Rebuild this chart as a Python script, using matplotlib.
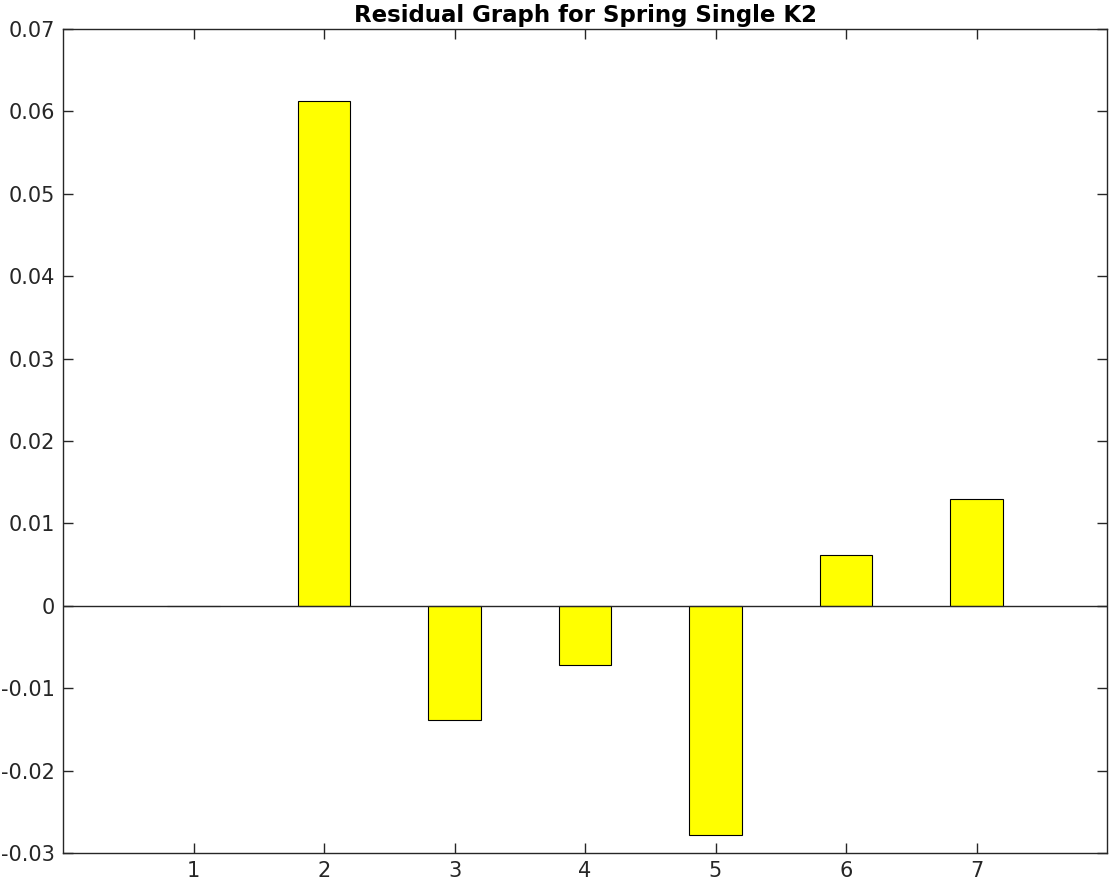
import matplotlib.pyplot as plt
import numpy as np

# --- DATA ---
positions = [1, 2, 3, 4, 5, 6, 7]
residuals = [0.00002, 0.0613, -0.0138, -0.0072, -0.0278, 0.0062, 0.0130]
y_ticks = [-0.03, -0.02, -0.01, 0, 0.01, 0.02, 0.03, 0.04, 0.05, 0.06, 0.07]
y_tick_labels = ['-0.03', '-0.02', '-0.01', '0', '0.01', '0.02', '0.03',
                 '0.04', '0.05', '0.06', '0.07']

axis_col = '#262626'

fig = plt.figure(figsize=(11.1, 8.85), dpi=100)
fig.patch.set_facecolor('white')
ax = fig.add_axes([63 / 1110, 32 / 885, (1107 - 63) / 1110, (853 - 29) / 885])

ax.bar(positions, residuals, width=0.4, color='yellow', edgecolor='black',
       linewidth=0.8, zorder=3)
ax.axhline(0, color=axis_col, linewidth=1.0, zorder=4)

ax.set_xlim(0, 8)
ax.set_ylim(-0.03, 0.07)
ax.set_xticks(positions)
ax.set_xticklabels([str(p) for p in positions])
ax.set_yticks(y_ticks)
ax.set_yticklabels(y_tick_labels)

ax.tick_params(direction='in', length=7, width=1, colors=axis_col,
               labelsize=15, top=True, right=True, pad=6)
for s in ax.spines.values():
    s.set_color(axis_col)
    s.set_linewidth(1.0)

ax.set_title('Residual Graph for Spring Single K2', fontsize=16.5,
             fontweight='bold', color='black', pad=5)

plt.savefig('out.png', dpi=100)
